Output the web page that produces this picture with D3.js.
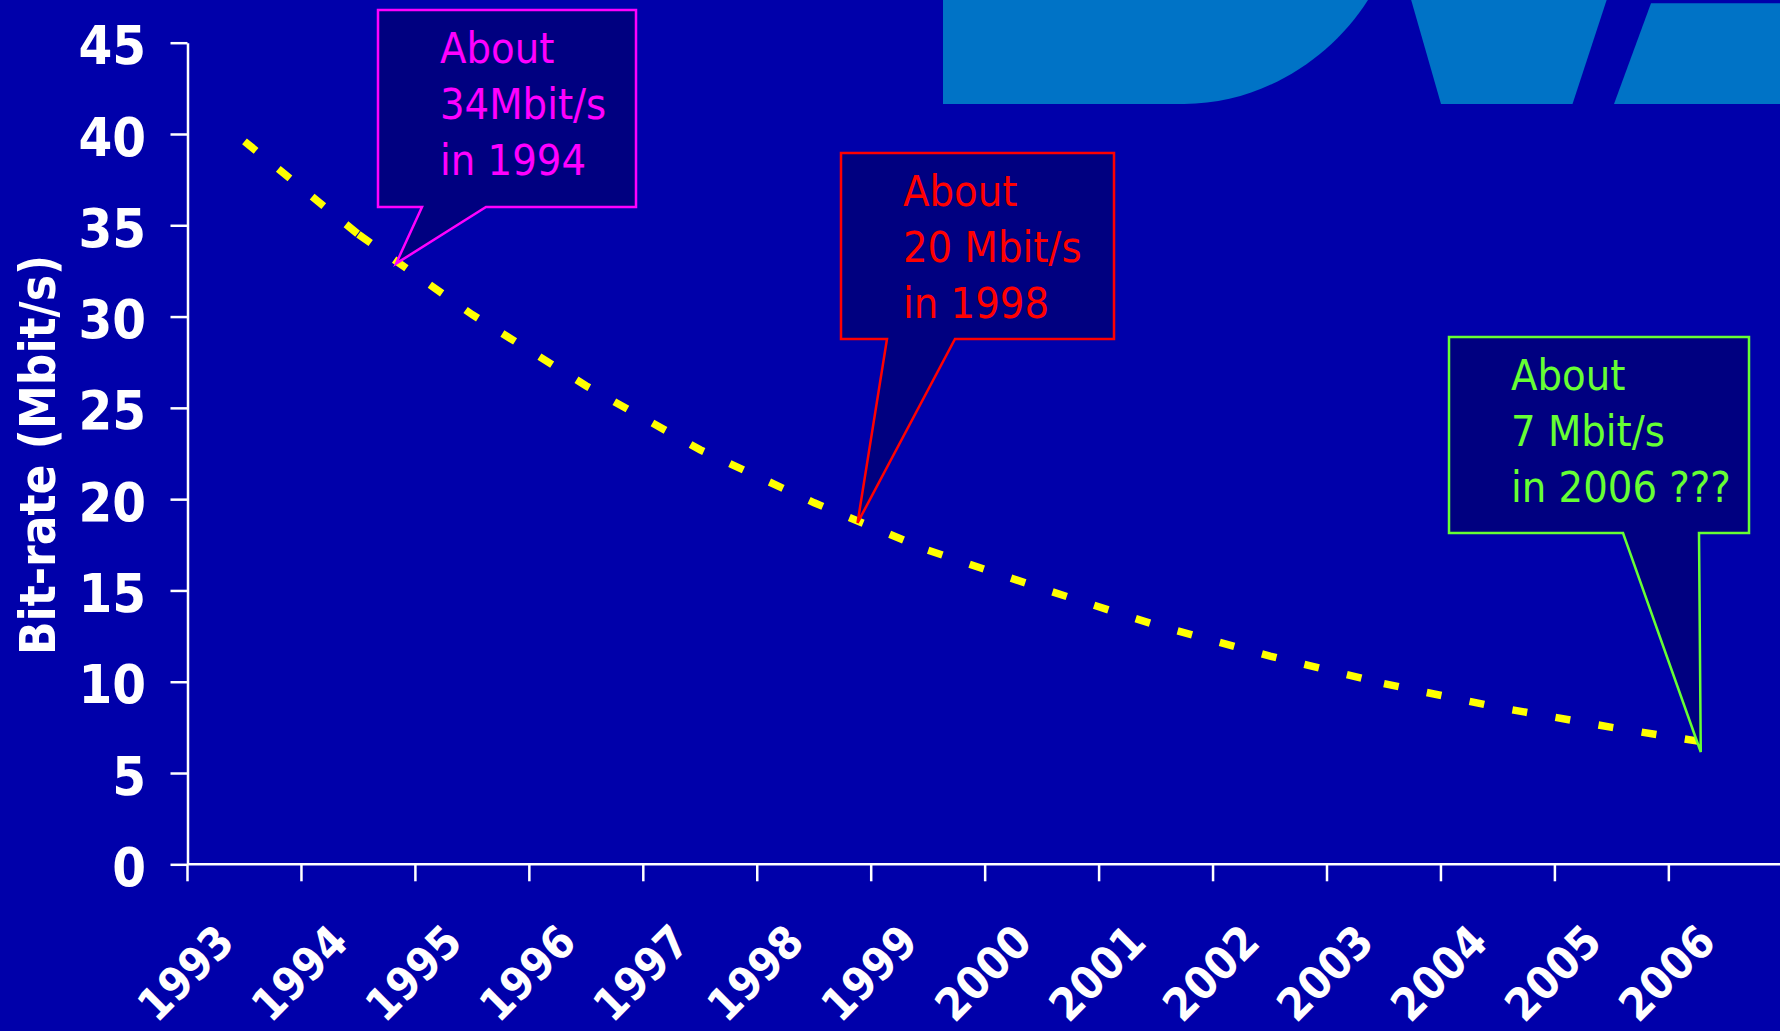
<!DOCTYPE html>
<html>
<head>
<meta charset="utf-8">
<script src="https://cdn.jsdelivr.net/npm/d3@7"></script>
<style>
  html, body { margin: 0; padding: 0; background: #0000aa; overflow: hidden; }
  svg { display: block; }
  .cond { font-family: "DejaVu Sans Condensed", "DejaVu Sans", sans-serif; font-stretch: condensed; }
</style>
</head>
<body>
<svg id="chart" width="1780" height="1031"></svg>
<script>
// ---- data ----
const years = [1993, 1994, 1995, 1996, 1997, 1998, 1999, 2000, 2001, 2002, 2003, 2004, 2005, 2006];
const bitrate = [39.6, 34.5, 30.1, 26.2, 22.7, 19.8, 17.2, 15.1, 13.1, 11.4, 9.9, 8.6, 7.5, 6.5];
const yTicks = [0, 5, 10, 15, 20, 25, 30, 35, 40, 45];
const yTitle = "Bit-rate (Mbit/s)";

// callout texts and the point (year, Mbit/s) each one points at
const calloutLines = [
  ["About", "34Mbit/s", "in 1994"],
  ["About", "20 Mbit/s", "in 1998"],
  ["About", "7 Mbit/s", "in 2006 ???"]
];
const calloutYears = [1994.33, 1998.38, 2005.78];
const calloutValues = [32.9, 18.7, 6.15];

// ---- layout ----
const W = 1780, H = 1031;
const plot = { left: 187.5, top: 42.7, bottom: 864.3, band: 113.95 };
const calloutColors = ["#ff00ff", "#ff0000", "#66ff33"];
// box rectangles [x0, y0, x1, y1] and pointer base [left, right] on the bottom edge
const calloutBoxes = [
  [378, 10, 636, 207],
  [841, 153, 1114, 339],
  [1449, 337, 1749, 533]
];
const calloutBases = [[422, 486], [887, 955], [1623, 1699]];
// dash pattern restarts at these point indices (separate stroked pieces)
const pieceBreaks = [0, 1, 6, 10, 13];

const svg = d3.select("#chart");

// background
svg.append("rect").attr("width", W).attr("height", H).attr("fill", "#0000aa");

// logo shapes along the top edge
const logo = svg.append("g").attr("fill", "#0073c6");
logo.append("path").attr("d", "M943,-2 H1369 L1368,0 C1330,60 1260,104 1184,104 H943 Z");
logo.append("path").attr("d", "M1410.6,-2 H1607.3 L1572.5,104 H1441 Z");
logo.append("path").attr("d", "M1651,3.3 H1780 V104 H1614 Z");

// scales
const x = d3.scaleBand().domain(years).range([plot.left, plot.left + years.length * plot.band]).padding(0);
const cx = d => x(d) + x.bandwidth() / 2;
const xYear = d3.scaleLinear().domain([years[0], years[years.length - 1]])
  .range([cx(years[0]), cx(years[years.length - 1])]);
const y = d3.scaleLinear().domain([0, 45]).range([plot.bottom, plot.top]);

// y axis
const yAxis = svg.append("g")
  .attr("transform", `translate(${plot.left},0)`)
  .call(d3.axisLeft(y).tickValues(yTicks).tickSize(17).tickSizeOuter(0).tickPadding(24.5));
yAxis.select(".domain").attr("stroke", "#fff").attr("stroke-width", 2.5);
yAxis.selectAll(".tick line").attr("stroke", "#fff").attr("stroke-width", 2.5);
yAxis.selectAll(".tick text")
  .attr("class", "cond")
  .attr("fill", "#fff")
  .attr("font-size", 54)
  .attr("font-weight", "bold")
  .attr("dy", "0.39em");

// y axis title
svg.append("text")
  .attr("class", "cond")
  .attr("transform", `translate(55,455) rotate(-90)`)
  .attr("text-anchor", "middle")
  .attr("fill", "#fff")
  .attr("font-size", 49)
  .attr("font-weight", "bold")
  .text(yTitle);

// x axis: line, ticks at category boundaries, rotated labels at category centres
const xAxis = svg.append("g").attr("transform", `translate(0,${plot.bottom})`);
xAxis.append("line")
  .attr("x1", plot.left).attr("x2", W)
  .attr("stroke", "#fff").attr("stroke-width", 2.5);
xAxis.selectAll("line.tick")
  .data(years)
  .join("line")
  .attr("class", "tick")
  .attr("x1", d => x(d)).attr("x2", d => x(d))
  .attr("y1", 0).attr("y2", 17)
  .attr("stroke", "#fff").attr("stroke-width", 2.5);
xAxis.selectAll("text")
  .data(years)
  .join("text")
  .attr("class", "cond")
  .attr("transform", d => `translate(${cx(d) - 8},80) rotate(-45)`)
  .attr("text-anchor", "end")
  .attr("fill", "#fff")
  .attr("font-size", 45)
  .attr("font-weight", "bold")
  .text(d => d);

// dashed bit-rate line
const line = d3.line().x(d => cx(d.year)).y(d => y(d.value));
const pts = years.map((yr, i) => ({ year: yr, value: bitrate[i] }));
for (let k = 0; k < pieceBreaks.length - 1; k++) {
  svg.append("path")
    .datum(pts.slice(pieceBreaks[k], pieceBreaks[k + 1] + 1))
    .attr("d", line)
    .attr("fill", "none")
    .attr("stroke", "#ffff00")
    .attr("stroke-width", 7.5)
    .attr("stroke-dasharray", "15 28.7")
    .attr("stroke-linecap", "butt");
}

// callouts
calloutLines.forEach((lines, i) => {
  const [x0, y0, x1, y1] = calloutBoxes[i];
  const [bl, br] = calloutBases[i];
  const tx = xYear(calloutYears[i]), ty = y(calloutValues[i]);
  const g = svg.append("g");
  g.append("path")
    .attr("d", `M${x0},${y0} H${x1} V${y1} H${br} L${tx},${ty} L${bl},${y1} H${x0} Z`)
    .attr("fill", "#000080")
    .attr("stroke", calloutColors[i])
    .attr("stroke-width", 2.5)
    .attr("stroke-linejoin", "miter");
  g.selectAll("text")
    .data(lines)
    .join("text")
    .attr("class", "cond")
    .attr("x", x0 + 62)
    .attr("y", (d, j) => y0 + 53 + j * 56)
    .attr("fill", calloutColors[i])
    .attr("font-size", 43)
    .text(d => d);
});
</script>
</body>
</html>
